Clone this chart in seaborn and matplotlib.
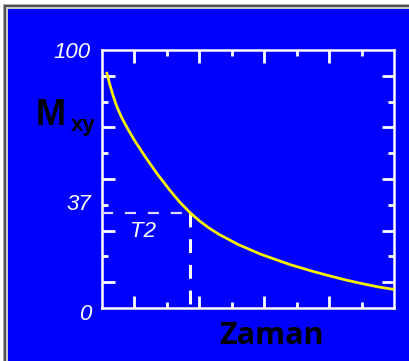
import matplotlib
matplotlib.use("Agg")
import matplotlib.pyplot as plt
from matplotlib.patches import Rectangle
import pandas as pd
import seaborn as sns

# ---- data -------------------------------------------------------------
zaman = [0.15, 0.25, 0.35, 0.45, 0.60, 0.80, 1.00, 1.35, 1.70, 2.10,
         2.40, 2.71, 3.00, 3.30, 3.60, 4.20, 4.90, 5.80, 6.50, 7.00,
         7.50, 8.00, 8.50, 9.00]
mxy = [91.0, 86.2, 82.0, 78.3, 74.0, 69.3, 65.0, 58.3, 52.0, 45.5,
       41.0, 37.0, 33.8, 31.0, 28.6, 24.6, 20.8, 16.8, 14.2, 12.5,
       10.9, 9.5, 8.2, 7.2]
t2_time = 2.71
t2_level = 37
y_tick_values = [0, 37, 100]
y_tick_labels = ["0", "37", "100"]
# vertical nudges (pixels) for the tick labels
y_label_nudge = [-7, 8, -2]

# ---- figure -----------------------------------------------------------
W, H = 409, 361
BLUE = "#0000ff"
plt.rcParams["lines.scale_dashes"] = False

fig = plt.figure(figsize=(W / 100, H / 100), dpi=100, facecolor="white")


def fx(px):
    return px / W


def fy(py):
    return 1 - py / H


# bevelled frame around the blue panel
for x0, y0, col in [(3, 4, "#a8a8a8"), (4, 5, "#505050"),
                    (6, 7, "#c8c8c8"), (8, 9, BLUE)]:
    fig.add_artist(Rectangle((fx(x0), 0), 1.01 - fx(x0), fy(y0),
                             transform=fig.transFigure, facecolor=col,
                             edgecolor="none", zorder=-5))

ax = fig.add_axes([fx(102), fy(308), (394 - 102) / W, (308 - 50) / H])
ax.set_facecolor(BLUE)

df = pd.DataFrame({"Zaman": zaman, "Mxy": mxy})
sns.lineplot(data=df, x="Zaman", y="Mxy", ax=ax, color="#f4f000",
             linewidth=2.0, zorder=4)

# T2 guide lines
ax.plot([0, t2_time], [t2_level, t2_level], color="#d8d8ff",
        linewidth=1.6, dashes=(8, 8.5), zorder=3)
ax.plot([t2_time, t2_time], [t2_level, 0], color="white",
        linewidth=2.2, dashes=(10, 8.5), zorder=3)

ax.set_xlim(0, 9)
ax.set_ylim(0, 100)
ax.set_xlabel("")
ax.set_ylabel("")

ax.set_xticks([1, 3, 5, 7])
ax.set_xticks([2, 4, 6, 8], minor=True)
ax.set_yticks([10, 30, 50, 70, 90])
ax.set_yticks([20, 40, 60, 80], minor=True)
ax.tick_params(which="both", direction="in", color="white", width=2.0,
               top=True, right=True, labelleft=False, labelbottom=False)
ax.tick_params(which="major", length=9)
ax.tick_params(which="minor", length=4)
for sp in ax.spines.values():
    sp.set_color("white")
    sp.set_linewidth(1.8)

# tick labels on the value axis
for val, lab, dy in zip(y_tick_values, y_tick_labels, y_label_nudge):
    ax.annotate(lab, xy=(0, val), xycoords=("axes fraction", "data"),
                xytext=(-11, dy), textcoords="offset pixels",
                ha="right", va="center", color="white", style="italic",
                fontsize=16, family="Liberation Sans")

ax.text(0.096, 0.295, "T2", transform=ax.transAxes, ha="left",
        va="center", color="white", style="italic", fontsize=16,
        family="Liberation Sans")

# axis titles
fig.text(fx(36), fy(125), "M", ha="left", va="baseline", color="black",
         fontsize=26, fontweight="bold", family="Liberation Sans")
fig.text(fx(71), fy(131), "xy", ha="left", va="baseline", color="black",
         fontsize=16, fontweight="bold", family="Liberation Sans")
fig.text(fx(271), fy(344), "Zaman", ha="center", va="baseline",
         color="black", fontsize=22, fontweight="bold", family="Open Sans")

fig.savefig("out.png", dpi=100, facecolor="white")
